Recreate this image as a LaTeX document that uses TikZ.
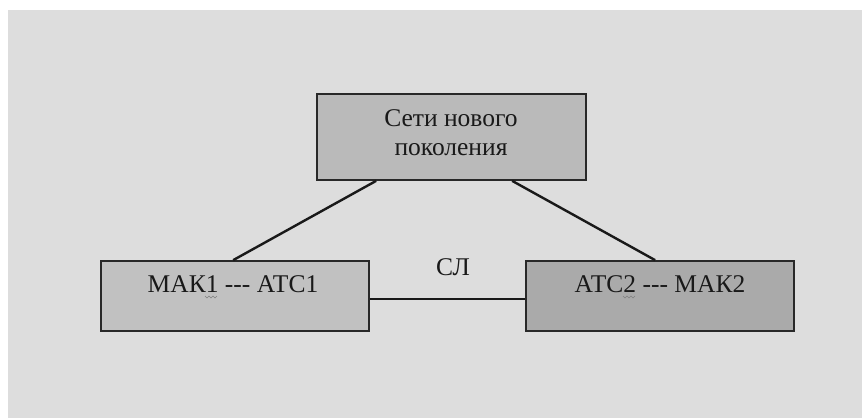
\documentclass[tikz,border=0pt]{standalone}
\usepackage{fontspec}
\setmainfont{Liberation Serif}
\usetikzlibrary{calc}
\definecolor{bggray}{RGB}{221,221,221}
\definecolor{topfill}{RGB}{186,186,186}
\definecolor{leftfill}{RGB}{193,193,193}
\definecolor{rightfill}{RGB}{170,170,170}
\definecolor{edge}{RGB}{40,40,40}
\tikzset{
  box/.style={draw=edge, line width=1.7pt, rectangle, inner sep=0pt},
  lbl/.style={font=\fontsize{25.5}{29}\selectfont, text=black!90, inner sep=0pt, align=center},
  link/.style={draw=black!90, line width=2.4pt},
  squig/.style={draw=gray, line width=0.6pt}
}
\begin{document}
\begin{tikzpicture}[x=1pt,y=-1pt]
\useasboundingbox (0,0) rectangle (862,418);
\fill[white] (0,0) rectangle (862,418);
\fill[bggray] (8,10) rectangle (862,418);
% boxes
\node[box, fill=topfill, minimum width=269pt, minimum height=86pt] (ngn) at (451.5,137) {};
\node[box, fill=leftfill, minimum width=268pt, minimum height=70pt] (mak1) at (235,296) {};
\node[box, fill=rightfill, minimum width=268pt, minimum height=70pt] (atc2) at (660,296) {};
% texts
\node[lbl] (ngnt) at (451,133) {Сети нового\\поколения};
\node[lbl] (mak1t) at (233,284) {МАК1 -{}-{}- АТС1};
\node[lbl] (atc2t) at (660,284) {АТС2 -{}-{}- МАК2};
\node[lbl] (sl) at (453,267) {СЛ};
% connectors
\draw[link] ($(ngn.south west)+(60,0)$) -- ($(mak1.north west)+(133,0)$);
\draw[link] ($(ngn.south west)+(196,0)$) -- ($(atc2.north west)+(130,0)$);
\draw[link] ($(mak1.east)+(0,3)$) -- ($(atc2.west)+(0,3)$);
% spell-check squiggles
\coordinate (q1) at (205,296);
\draw[squig] (q1) -- ++(2,2) -- ++(2,-2) -- ++(2,2) -- ++(2,-2) -- ++(2,2) -- ++(2,-2);
\coordinate (q2) at (623,296);
\draw[squig] (q2) -- ++(2,2) -- ++(2,-2) -- ++(2,2) -- ++(2,-2) -- ++(2,2) -- ++(2,-2);
\end{tikzpicture}
\end{document}
